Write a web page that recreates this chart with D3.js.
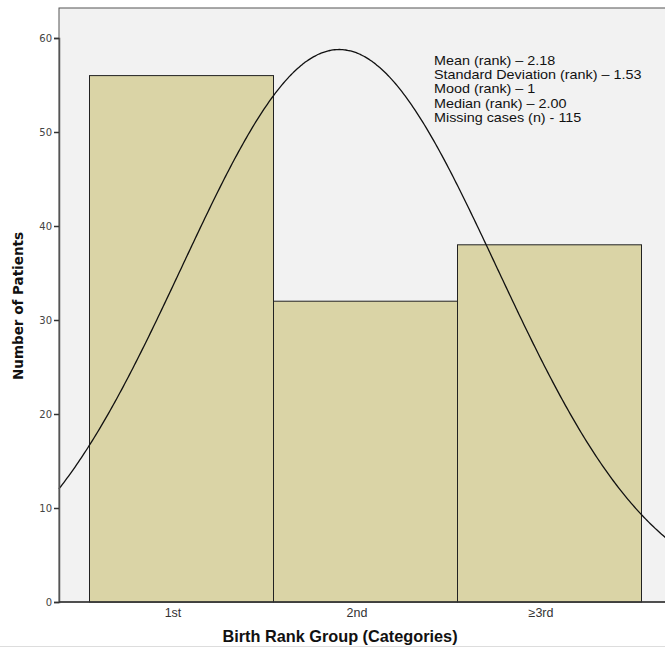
<!DOCTYPE html>
<html><head><meta charset="utf-8">
<script src="https://cdn.jsdelivr.net/npm/d3@7"></script>
<style>body{margin:0;background:#fff;}svg{display:block;}</style>
</head><body>
<svg id="c" width="665" height="649"></svg>
<script>
const categories = ["1st", "2nd", "≥3rd"];
const rankValues = [1, 2, 3];
const counts = [56, 32, 38];
const yTicks = [0, 10, 20, 30, 40, 50, 60];
const statLines = [
  "Mean (rank) – 2.18",
  "Standard Deviation (rank) – 1.53",
  "Mood (rank) – 1",
  "Median (rank) – 2.00",
  "Missing cases (n) - 115"
];

const svg = d3.select("#c");
const L = 59, T = 8, B = 602, R = 700;
const x = d3.scaleLinear().domain([0.5, 1.5]).range([89.5, 273.5]);
const y = d3.scaleLinear().domain([0, 60]).range([B, 38]);
const xMin = x.invert(L), xMax = x.invert(R);

// plot background
svg.append("rect").attr("x", L).attr("y", T).attr("width", R - L).attr("height", B - T)
  .attr("fill", "#f2f2f2").attr("stroke", "#555").attr("stroke-width", 1);

// bars
svg.append("g").selectAll("rect").data(counts).join("rect")
  .attr("x", (d, i) => x(rankValues[i] - 0.5))
  .attr("width", (d, i) => x(rankValues[i] + 0.5) - x(rankValues[i] - 0.5))
  .attr("y", d => y(d))
  .attr("height", d => y(0) - y(d))
  .attr("fill", "#dad4a6").attr("stroke", "#222").attr("stroke-width", 1);

// normal curve fitted to the counts
const N = d3.sum(counts);
const mean = d3.sum(counts, (c, i) => c * rankValues[i]) / N;
const ss = d3.sum(counts, (c, i) => c * (rankValues[i] - mean) ** 2);
const sd = Math.sqrt(ss / (N - 1));
const pts = d3.range(0, 401).map(k => {
  const xv = xMin + (xMax - xMin) * k / 400;
  const yv = N / (sd * Math.sqrt(2 * Math.PI)) * Math.exp(-0.5 * ((xv - mean) / sd) ** 2);
  return [xv, yv];
});
svg.append("path").datum(pts)
  .attr("d", d3.line().x(d => x(d[0])).y(d => y(d[1])).curve(d3.curveBasis))
  .attr("fill", "none").attr("stroke", "#111").attr("stroke-width", 1.3);

// y axis
const yAxis = svg.append("g").attr("transform", `translate(${L},0)`)
  .call(d3.axisLeft(y).tickValues(yTicks).tickSize(5).tickPadding(2).tickFormat(d3.format("d")));
yAxis.select(".domain").attr("stroke", "#555").attr("stroke-width", 1.5);
yAxis.selectAll(".tick line").attr("stroke", "#333").attr("stroke-width", 1.5);
yAxis.selectAll("text").attr("font-family", "DejaVu Sans").attr("font-size", 10).attr("fill", "#444");

// x axis
const xAxis = svg.append("g").attr("transform", `translate(0,${B})`)
  .call(d3.axisBottom(x).tickValues(rankValues).tickSize(0).tickPadding(0)
    .tickFormat((d, i) => categories[i]));
xAxis.select(".domain").attr("d", `M${L},0H${R}`).attr("stroke", "#333").attr("stroke-width", 1.5);
xAxis.selectAll("text").attr("font-family", "Liberation Sans, Arial").attr("font-size", 12.5)
  .attr("fill", "#333").attr("dy", null).attr("y", 15).attr("dx", -9);

// axis titles
svg.append("text").attr("transform", "translate(23,306) rotate(-90)")
  .attr("text-anchor", "middle").attr("font-family", "DejaVu Sans").attr("font-weight", "bold")
  .attr("font-size", 13.5).attr("fill", "#111").text("Number of Patients");
svg.append("text").attr("x", 340).attr("y", 642)
  .attr("text-anchor", "middle").attr("font-family", "Liberation Sans, Arial").attr("font-weight", "bold")
  .attr("font-size", 16.3).attr("fill", "#111").text("Birth Rank Group (Categories)");

// bottom rule
svg.append("line").attr("x1", 0).attr("x2", 665).attr("y1", 646.5).attr("y2", 646.5)
  .attr("stroke", "#ddd").attr("stroke-width", 1);

// stats text
svg.append("g").attr("transform", "translate(434,0) scale(1.08,1)")
  .selectAll("text").data(statLines).join("text")
  .attr("x", 0).attr("y", (d, i) => 65 + i * 14.2)
  .attr("font-family", "Liberation Sans, Arial").attr("font-size", 13.3).attr("fill", "#111")
  .text(d => d);
</script>
</body></html>
